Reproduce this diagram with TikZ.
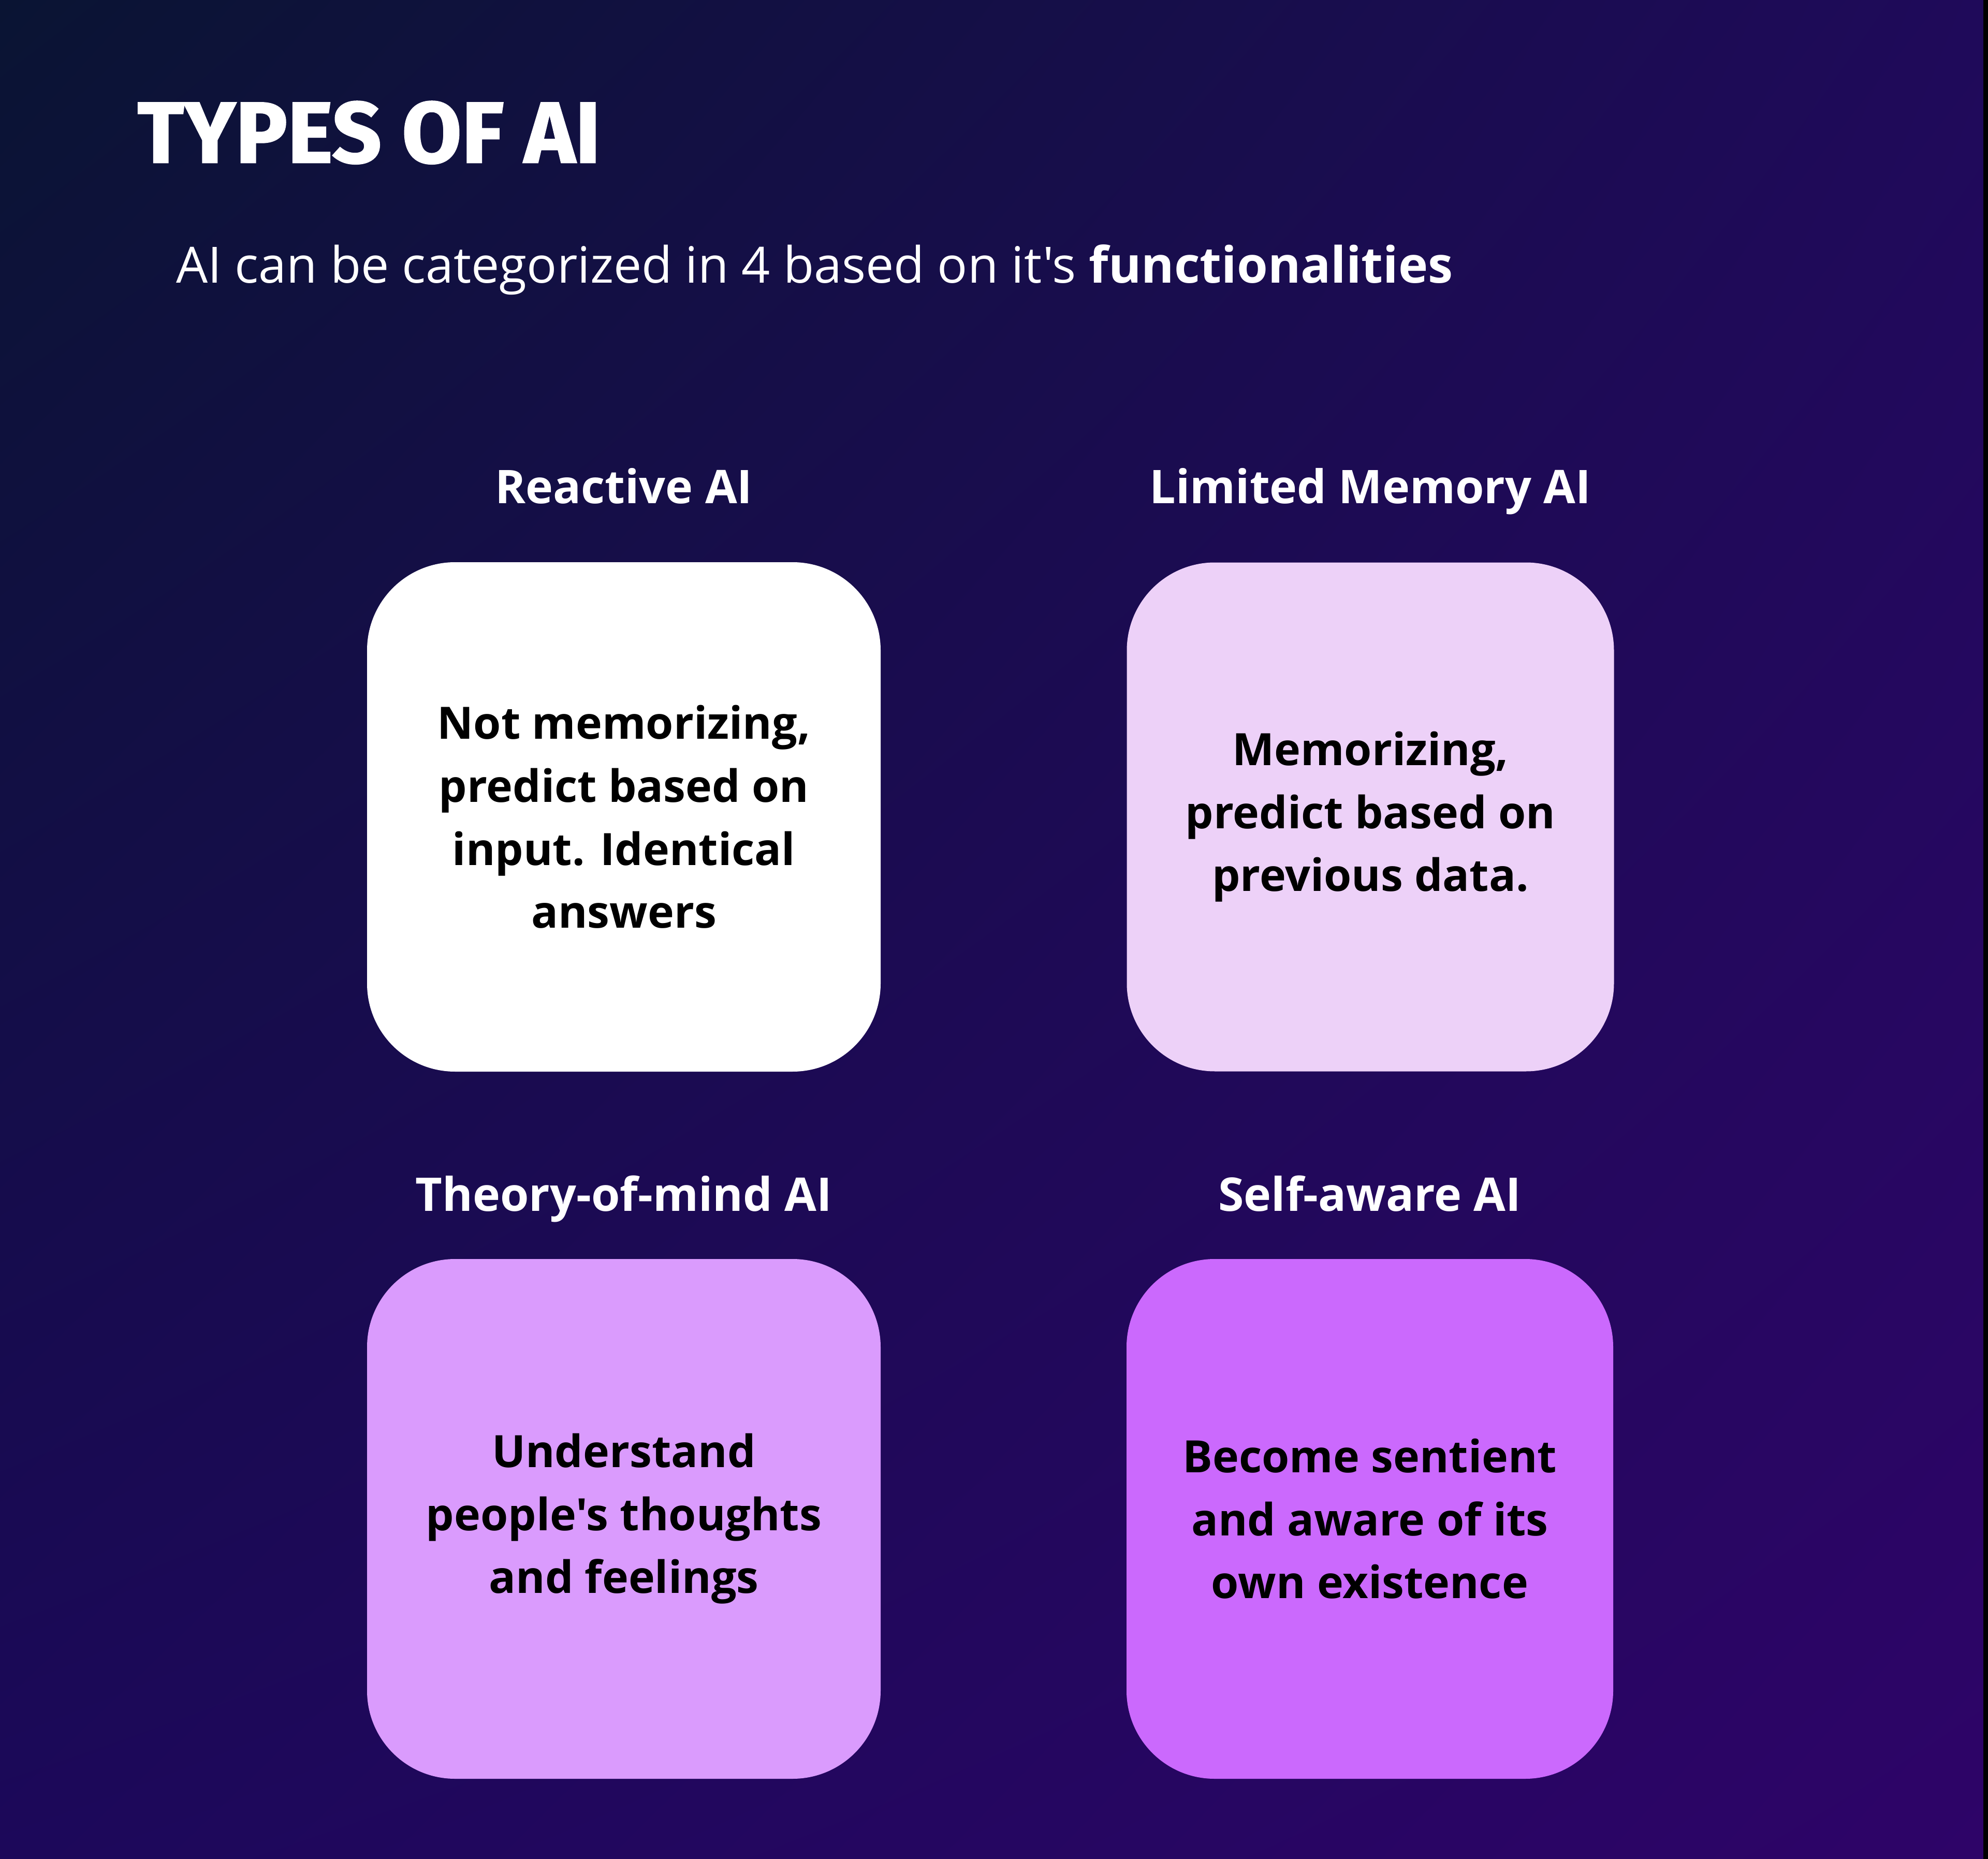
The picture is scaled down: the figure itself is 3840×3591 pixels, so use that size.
\documentclass[tikz,border=0pt]{standalone}
\usepackage{fontspec}
\setmainfont{Open Sans}[Ligatures=TeXOff]
\newfontfamily\titlefont{Fira Sans}[FakeBold=1.5]
\usetikzlibrary{shadings}

\definecolor{bgTL}{HTML}{0A1433}
\definecolor{bgTR}{HTML}{1F0A5A}
\definecolor{bgBL}{HTML}{1C085A}
\definecolor{bgBR}{HTML}{2E0468}
\definecolor{cardMemory}{HTML}{EDD1F8}
\definecolor{cardMind}{HTML}{DA9BFD}
\definecolor{cardAware}{HTML}{CB69FD}

\begin{document}
\begin{tikzpicture}[x=0.1mm, y=-0.1mm, every node/.style={inner sep=0pt}]
    \tikzstyle{card}=[rounded corners=1.7cm, align=center, text=black, font=\bfseries\fontsize{24.5}{34.6}\selectfont]
    \tikzstyle{head}=[anchor=base, text=white, font=\bfseries\fontsize{25.5}{30}\selectfont]

    \useasboundingbox (0,0) rectangle (3840,3591);
    \shade[upper left=bgTL, upper right=bgTR, lower left=bgBL, lower right=bgBR] (0,0) rectangle (3840,3591);
    \fill[black] (3831,0) rectangle (3840,3591);

    \node[anchor=base west, text=white, font=\titlefont\bfseries\fontsize{47.5}{50}\selectfont] (title) at (265,314) {TYPES OF AI};
    \node[anchor=base west, text=white, font=\fontsize{27.5}{33}\selectfont] (subtitle) at (340,547) {AI can be categorized in 4 based on it's \textbf{functionalities}};

    % top row
    \node[head] (hReactive) at (1205,972) {Reactive AI};
    \node[head] (hMemory) at (2647,972) {Limited Memory AI};
    \node[card, fill=white, minimum width=9.92cm, minimum height=9.84cm] (reactive) at (1205,1578) {Not memorizing,\\predict based on\\input. Identical\\answers};
    \node[card, fill=cardMemory, minimum width=9.41cm, minimum height=9.83cm] (memory) at (2647,1578) {Memorizing,\\predict based on\\previous data.};

    % bottom row
    \node[head] (hMind) at (1205,2339) {Theory-of-mind AI};
    \node[head] (hAware) at (2646,2339) {Self-aware AI};
    \node[card, fill=cardMind, minimum width=9.92cm, minimum height=10.04cm] (mind) at (1205,2934) {Understand\\people's thoughts\\and feelings};
    \node[card, fill=cardAware, minimum width=9.40cm, minimum height=10.04cm] (aware) at (2646,2934) {Become sentient\\and aware of its\\own existence};
\end{tikzpicture}
\end{document}
